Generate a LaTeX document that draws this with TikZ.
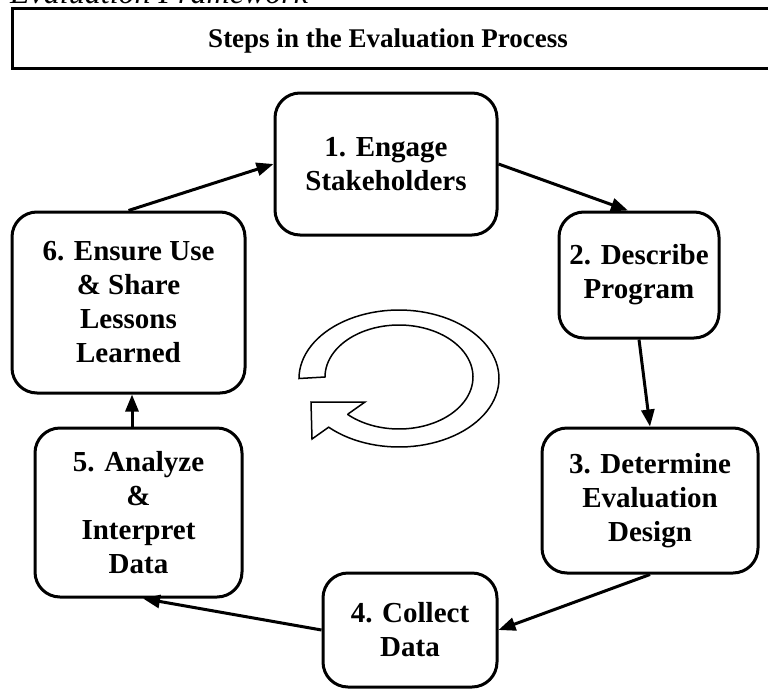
\documentclass[tikz,border=0pt]{standalone}
\usepackage{fontspec}
\setmainfont{Liberation Serif}
\usetikzlibrary{arrows.meta}
\begin{document}
\begin{tikzpicture}[x=1pt,y=-1pt,
  stepbox/.style={draw, line width=3pt, rounded corners=25pt, align=center,
    font=\bfseries\fontsize{29}{34}\selectfont, inner sep=0pt},
  flow/.style={line width=3pt, -{Triangle[length=17pt,width=13pt]}}]
\useasboundingbox (0,0) rectangle (768,688);
% cut-off caption and title bar
\node[font=\itshape\fontsize{32}{38}\selectfont, anchor=base west, inner sep=0pt] (caption) at (10,4) {Evaluation Framework};
\node[draw, line width=3pt, minimum width=778pt, minimum height=60pt, inner sep=0pt] (titlebox) at (401,38) {};
\node[font=\bfseries\fontsize{27}{32}\selectfont, anchor=base, inner sep=0pt] (titletext) at (388,47) {Steps in the Evaluation Process};
% steps
\node[stepbox, minimum width=222pt, minimum height=142pt] (n1) at (386,164) {1. Engage\\Stakeholders};
\node[stepbox, minimum width=160pt, minimum height=126pt] (n2) at (639,275) {2. Describe\\Program};
\node[stepbox, minimum width=216pt, minimum height=145pt] (n3) at (650,500.5) {3. Determine\\Evaluation\\Design};
\node[stepbox, minimum width=174pt, minimum height=114pt] (n4) at (410,630) {4. Collect\\Data};
\node[stepbox, minimum width=207pt, minimum height=169pt] (n5) at (138.5,512.5) {5. Analyze\\\&\\Interpret\\Data};
\node[stepbox, minimum width=233pt, minimum height=181pt] (n6) at (128.5,302.5) {6. Ensure Use\\\& Share\\Lessons\\Learned};
% connectors
\draw[flow] (n6.north) -- (n1.west);
\draw[flow] (n1.east) -- ([xshift=-11pt]n2.north);
\draw[flow] (n2.south) -- (n3.north);
\draw[flow] (n3.south) -- (n4.east);
\draw[flow] (n4.west) -- ([xshift=4.5pt]n5.south);
\draw[flow] ([xshift=-6.5pt]n5.north) -- ([xshift=-6.5pt]n5.north |- n6.south);
% circular arrow
\draw[line width=1.5pt, fill=white, line join=miter]
  plot[domain=180:494.7, samples=90, variable=\t] ({399+100*cos(\t)},{378.5+68.5*sin(\t)})
  -- (312,439) -- (311,402) -- (365,402) -- (348,414)
  -- plot[domain=493.6:180, samples=90, variable=\t] ({399+74*cos(\t)},{377+52*sin(\t)})
  -- cycle;
\end{tikzpicture}
\end{document}
